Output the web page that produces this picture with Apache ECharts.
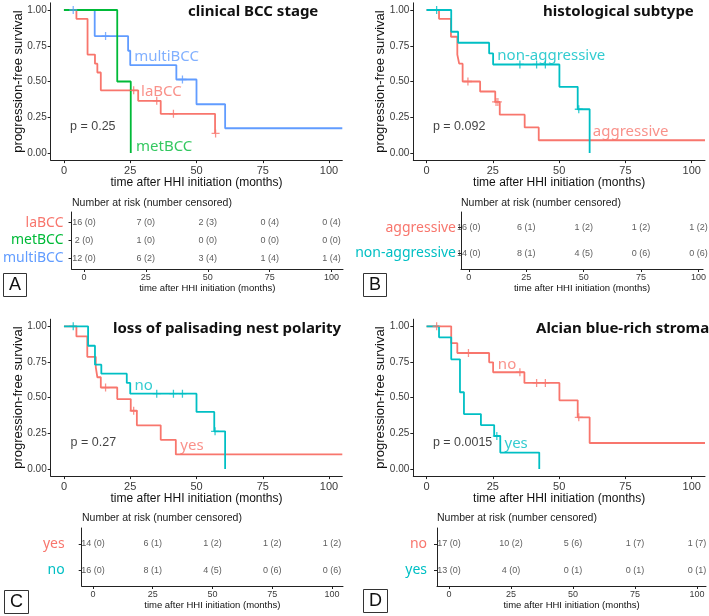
<!DOCTYPE html>
<html>
<head>
<meta charset="utf-8">
<script src="https://cdn.jsdelivr.net/npm/echarts@6/dist/echarts.min.js"></script>
<style>
html, body { margin: 0; background: #fff; }
#main { width: 709px; height: 616px; }
</style>
</head>
<body>
<div id="main"></div>
<script>
// shared axes
var tickVals = [0, 25, 50, 75, 100];
var survTicks = [0, 0.25, 0.5, 0.75, 1];
var riskTimes = [0, 25, 50, 75, 100];

// A: clinical BCC stage  (km = [time, survival] steps, cens = censored marks)
var kmLaBCC = [[0,1],[4.7,0.938],[8.9,0.688],[11.7,0.625],[12.6,0.563],[13.9,0.438],[28,0.365],[36.5,0.274],[57,0.137]];
var censLaBCC = [[26.3,0.438],[35,0.365],[41.3,0.274],[57.2,0.137]];
var kmMetBCC = [[0,1],[20.1,0.5],[25.2,0]];
var kmMultiBCC = [[0,1],[11.6,0.818],[24.2,0.715],[25,0.614],[42.4,0.514],[50,0.341],[60.8,0.173],[105,0.173]];
var censMultiBCC = [[3.5,1],[15.7,0.818],[44.7,0.514]];
var riskLaBCC = [16, 7, 2, 0, 0],   riskLaBCCc = [0, 0, 3, 4, 4];
var riskMetBCC = [2, 1, 0, 0, 0],   riskMetBCCc = [0, 0, 0, 0, 0];
var riskMultiBCC = [12, 6, 3, 1, 1], riskMultiBCCc = [0, 2, 4, 4, 4];

// B: histological subtype
var kmAggr = [[0,1],[4.7,0.938],[9.2,0.813],[11.6,0.688],[12.3,0.625],[13.6,0.5],[20.2,0.43],[25.9,0.357],[27.6,0.268],[37,0.179],[42.3,0.089],[105,0.089]];
var censAggr = [[15.6,0.5],[26.2,0.357],[26.9,0.357]];
var kmNonAggr = [[0,1],[9.3,0.848],[11.9,0.771],[23.6,0.696],[25.1,0.619],[50.1,0.463],[57,0.306],[61.5,0]];
var censNonAggr = [[3.8,1],[35.2,0.619],[41.5,0.619],[44.8,0.619],[57.4,0.306]];
var riskAggr = [16, 6, 1, 1, 1],    riskAggrc = [0, 1, 2, 2, 2];
var riskNonAggr = [14, 8, 4, 0, 0], riskNonAggrc = [0, 1, 5, 6, 6];

// C: loss of palisading nest polarity
var kmPalYes = [[0,1],[4.7,0.929],[8.8,0.786],[12,0.714],[12.6,0.643],[13.9,0.571],[20.1,0.49],[25.2,0.408],[27.5,0.306],[36.5,0.204],[42.2,0.102],[105,0.102]];
var censPalYes = [[15.7,0.571],[26.3,0.408]];
var kmPalNo = [[0,1],[9.1,0.864],[11.7,0.731],[14.1,0.668],[23.7,0.603],[25,0.528],[50,0.4],[56.7,0.264],[60.8,0]];
var censPalNo = [[3.5,1],[35,0.528],[41.3,0.528],[44.7,0.528],[57,0.264]];
var riskPalYes = [14, 6, 1, 1, 1], riskPalYesc = [0, 1, 2, 2, 2];
var riskPalNo = [16, 8, 4, 0, 0],  riskPalNoc = [0, 1, 5, 6, 6];

// D: Alcian blue-rich stroma
var kmAbNo = [[0,1],[9.3,0.882],[11.6,0.813],[23.6,0.748],[25.1,0.678],[36.9,0.603],[50.1,0.481],[57,0.362],[61.5,0.182],[105,0.182]];
var censAbNo = [[3.8,1],[15.8,0.813],[35.2,0.678],[41.5,0.603],[44.8,0.603],[57.4,0.362]];
var kmAbYes = [[0,1],[4.7,0.923],[9.3,0.769],[12.6,0.538],[14.1,0.385],[20.5,0.308],[25.5,0.231],[27.8,0.115],[42.5,0]];
var censAbYes = [[26.5,0.231]];
var riskAbNo = [17, 10, 5, 1, 1], riskAbNoc = [0, 2, 6, 7, 7];
var riskAbYes = [13, 4, 0, 0, 0], riskAbYesc = [0, 0, 1, 1, 1];

var RED = '#F8766D', GREEN = '#00BA38', BLUE = '#619CFF', TEAL = '#00BFC4';
var AXC = '#222';
var SANS = 'Liberation Sans';
var plusSym = 'path://M4.2,0L5.8,0L5.8,4.2L10,4.2L10,5.8L5.8,5.8L5.8,10L4.2,10L4.2,5.8L0,5.8L0,4.2L4.2,4.2Z';
var xName = 'time after HHI initiation (months)';

var grids = [], xAxes = [], yAxes = [], series = [], titles = [];

function textSeries(gi, pos, txt, color, size) {
    series.push({
        type: 'scatter', xAxisIndex: gi, yAxisIndex: gi, silent: true,
        symbolSize: 1, itemStyle: {color: 'rgba(0,0,0,0)'},
        data: [pos], z: 5,
        label: {show: true, position: 'right', distance: 0, formatter: txt,
                color: color, fontSize: size, fontFamily: size > 13 ? 'Noto Sans' : SANS}
    });
}

function addPlot(box, curves, pText, pPos) {
    var gi = grids.length;
    grids.push({left: box[0], top: box[1], width: box[2], height: box[3]});
    xAxes.push({
        gridIndex: gi, type: 'value', min: -5, max: 105,
        name: xName, nameLocation: 'middle', nameGap: 17, nameMoveOverlap: false,
        nameTextStyle: {fontSize: 12, color: '#111', fontFamily: SANS},
        axisLine: {onZero: false, lineStyle: {color: AXC, width: 1}},
        axisTick: {customValues: tickVals, length: 3, lineStyle: {color: AXC}},
        axisLabel: {customValues: tickVals, margin: 5, fontSize: 11, color: '#3a3a3a', fontFamily: SANS},
        splitLine: {show: false}
    });
    yAxes.push({
        gridIndex: gi, type: 'value', min: -0.05, max: 1.05,
        name: 'progression-free survival', nameLocation: 'middle', nameGap: 26, nameMoveOverlap: false,
        nameTextStyle: {fontSize: 13, color: '#111', fontFamily: SANS},
        axisLine: {show: true, onZero: false, lineStyle: {color: AXC, width: 1}},
        axisTick: {show: true, customValues: survTicks, length: 3, lineStyle: {color: AXC}},
        axisLabel: {customValues: survTicks, margin: 4, fontSize: 10, color: '#3a3a3a', fontFamily: SANS,
                    formatter: function (v) { return v.toFixed(2); }},
        splitLine: {show: false}
    });
    curves.forEach(function (c) {
        series.push({
            type: 'line', xAxisIndex: gi, yAxisIndex: gi, data: c.km, step: 'end',
            showSymbol: false, silent: true,
            lineStyle: {color: c.color, width: 1.8}, itemStyle: {color: c.color}
        });
        if (c.cens) {
            series.push({
                type: 'scatter', xAxisIndex: gi, yAxisIndex: gi, data: c.cens, silent: true,
                symbol: plusSym, symbolSize: 8, itemStyle: {color: c.color}, z: 4
            });
        }
        textSeries(gi, c.lab, c.name, c.color, 15);
    });
    textSeries(gi, pPos, pText, '#111', 12.5);
}

function addTable(box, min, max, rows, labMargin) {
    var gi = grids.length;
    grids.push({left: box[0], top: box[1], width: box[2], height: box[3]});
    xAxes.push({
        gridIndex: gi, type: 'value', min: min, max: max,
        name: xName, nameLocation: 'middle', nameGap: 14, nameMoveOverlap: false,
        nameTextStyle: {fontSize: 9.5, color: '#111', fontFamily: SANS},
        axisLine: {onZero: false, lineStyle: {color: AXC, width: 1}},
        axisTick: {customValues: tickVals, length: 3, lineStyle: {color: AXC}},
        axisLabel: {customValues: tickVals, margin: 4, fontSize: 9, color: '#3a3a3a', fontFamily: SANS},
        splitLine: {show: false}
    });
    var idx = rows.map(function (r, i) { return i + 1; });
    var rich = {};
    rows.forEach(function (r, i) { rich['r' + i] = {color: r.color, fontSize: 14, fontFamily: 'Noto Sans'}; });
    yAxes.push({
        gridIndex: gi, type: 'value', min: 0.4, max: rows.length + 0.6, inverse: true,
        axisLine: {show: true, onZero: false, lineStyle: {color: AXC, width: 1}},
        axisTick: {show: true, customValues: idx, length: 3, lineStyle: {color: AXC}},
        axisLabel: {customValues: idx, margin: labMargin, rich: rich,
                    formatter: function (v) { var i = Math.round(v) - 1; return '{r' + i + '|' + rows[i].name + '}'; }},
        splitLine: {show: false}
    });
    rows.forEach(function (r, i) {
        series.push({
            type: 'scatter', xAxisIndex: gi, yAxisIndex: gi, silent: true,
            symbolSize: 1, itemStyle: {color: 'rgba(0,0,0,0)'},
            data: riskTimes.map(function (t, k) { return [t, i + 1, r.risk[k] + ' (' + r.cens[k] + ')']; }),
            label: {show: true, position: 'inside', fontSize: 9, color: '#333', fontFamily: SANS,
                    formatter: function (p) { return p.data[2]; }}
        });
    });
}

// plots
addPlot([50.7, 2.85, 291.6, 157.3], [
    {name: 'multiBCC', color: BLUE, km: kmMultiBCC, cens: censMultiBCC, lab: [26.3, 0.673]},
    {name: 'laBCC', color: RED, km: kmLaBCC, cens: censLaBCC, lab: [28.9, 0.429]},
    {name: 'metBCC', color: GREEN, km: kmMetBCC, cens: null, lab: [27, 0.044]}
], 'p = 0.25', [2.1, 0.184]);

addPlot([413.3, 2.85, 291.7, 157.3], [
    {name: 'aggressive', color: RED, km: kmAggr, cens: censAggr, lab: [62.5, 0.149]},
    {name: 'non-aggressive', color: TEAL, km: kmNonAggr, cens: censNonAggr, lab: [26.5, 0.678]}
], 'p = 0.092', [2.2, 0.184]);

addPlot([50.7, 319.2, 291.6, 156.9], [
    {name: 'yes', color: RED, km: kmPalYes, cens: censPalYes, lab: [43.7, 0.163]},
    {name: 'no', color: TEAL, km: kmPalNo, cens: censPalNo, lab: [26.4, 0.584]}
], 'p = 0.27', [2.3, 0.182]);

addPlot([413.3, 319.2, 291.7, 156.9], [
    {name: 'no', color: RED, km: kmAbNo, cens: censAbNo, lab: [26.7, 0.731]},
    {name: 'yes', color: TEAL, km: kmAbYes, cens: censAbYes, lab: [29.2, 0.175]}
], 'p = 0.0015', [2.2, 0.182]);

// risk tables
addTable([71, 212, 272, 57], -5, 104.6, [
    {name: 'laBCC', color: RED, risk: riskLaBCC, cens: riskLaBCCc},
    {name: 'metBCC', color: GREEN, risk: riskMetBCC, cens: riskMetBCCc},
    {name: 'multiBCC', color: BLUE, risk: riskMultiBCC, cens: riskMultiBCCc}
], 8);
addTable([461, 212, 245, 57], -3.4, 102, [
    {name: 'aggressive', color: RED, risk: riskAggr, cens: riskAggrc},
    {name: 'non-aggressive', color: TEAL, risk: riskNonAggr, cens: riskNonAggrc}
], 5);
addTable([81.7, 528, 261.3, 58], -4.7, 104.6, [
    {name: 'yes', color: RED, risk: riskPalYes, cens: riskPalYesc},
    {name: 'no', color: TEAL, risk: riskPalNo, cens: riskPalNoc}
], 17);
addTable([437, 528, 269, 58], -4.8, 103.6, [
    {name: 'no', color: RED, risk: riskAbNo, cens: riskAbNoc},
    {name: 'yes', color: TEAL, risk: riskAbYes, cens: riskAbYesc}
], 10);

// titles, table headings, panel letters
var boldTitle = {fontSize: 15, fontWeight: 'bold', color: '#111', fontFamily: 'Noto Sans', lineHeight: 16};
titles.push({text: 'clinical BCC stage', left: 188, top: 4, padding: 0, textStyle: boldTitle});
titles.push({text: 'histological subtype', left: 543, top: 4, padding: 0, textStyle: boldTitle});
titles.push({text: 'loss of palisading nest polarity', left: 113, top: 321, padding: 0, textStyle: boldTitle});
titles.push({text: 'Alcian blue-rich stroma', left: 536, top: 321, padding: 0, textStyle: boldTitle});

var riskHead = {fontSize: 10.5, fontWeight: 'normal', color: '#222', fontFamily: SANS, lineHeight: 12};
[[72, 197], [461, 197], [82, 512], [437, 512]].forEach(function (p) {
    titles.push({text: 'Number at risk (number censored)', left: p[0], top: p[1], padding: 0, textStyle: riskHead});
});

var letterStyle = {fontSize: 18, fontWeight: 'normal', color: '#111', fontFamily: SANS, lineHeight: 20};
[['A', 3, 273], ['B', 363, 273], ['C', 4, 590], ['D', 363, 589]].forEach(function (l) {
    titles.push({text: l[0], left: l[1], top: l[2], padding: [2, 6], borderWidth: 1, borderColor: '#333', textStyle: letterStyle});
});

var chart = echarts.init(document.getElementById('main'));
chart.setOption({
    animation: false,
    backgroundColor: '#fff',
    textStyle: {fontFamily: SANS},
    title: titles,
    grid: grids,
    xAxis: xAxes,
    yAxis: yAxes,
    series: series
});
</script>
</body>
</html>
